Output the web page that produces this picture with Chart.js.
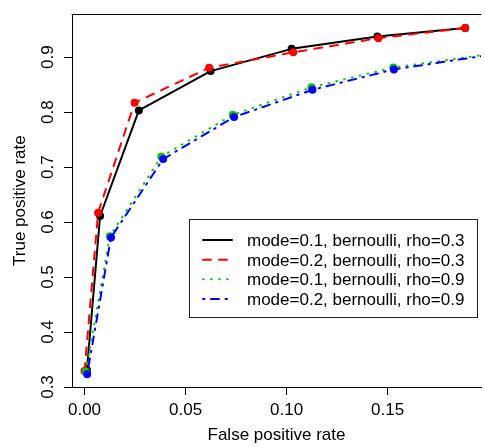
<!DOCTYPE html>
<html>
<head>
<meta charset="utf-8">
<script src="https://cdn.jsdelivr.net/npm/chart.js@4.4.1/dist/chart.umd.min.js"></script>
<style>
  html, body { margin: 0; padding: 0; background: #fff; }
</style>
</head>
<body>
<canvas id="rocChart" width="485" height="448"></canvas>
<script>
// ROC points (false positive rate, true positive rate)
const labels = [
  "mode=0.1, bernoulli, rho=0.3",
  "mode=0.2, bernoulli, rho=0.3",
  "mode=0.1, bernoulli, rho=0.9",
  "mode=0.2, bernoulli, rho=0.9",
];
const fpr1 = [0.0012, 0.0077, 0.0269, 0.0624, 0.1025, 0.1449, 0.1884];
const tpr1 = [0.331, 0.611, 0.803, 0.8745, 0.915, 0.9373, 0.9529];
const fpr2 = [0.0000, 0.0067, 0.0248, 0.0617, 0.1033, 0.1454, 0.1884];
const tpr2 = [0.329, 0.617, 0.817, 0.8806, 0.9086, 0.9344, 0.9529];
const fpr3 = [0.0006, 0.0125, 0.0380, 0.0734, 0.1123, 0.1528, 0.215];
const tpr3 = [0.328, 0.574, 0.719, 0.795, 0.845, 0.881, 0.913];
const fpr4 = [0.0013, 0.0131, 0.0389, 0.0740, 0.1128, 0.1531, 0.215];
const tpr4 = [0.323, 0.572, 0.7145, 0.791, 0.8405, 0.8776, 0.912];

const xTicks = [0, 0.05, 0.10, 0.15];
const yTicks = [0.3, 0.4, 0.5, 0.6, 0.7, 0.8, 0.9];

const FONT = "'Liberation Sans', Arial, Helvetica, sans-serif";

function pts(xs, ys) {
  return xs.map((x, i) => ({ x: x, y: ys[i] }));
}

function series(i, xs, ys, color, dash, order) {
  return {
    label: labels[i],
    data: pts(xs, ys),
    borderColor: color,
    backgroundColor: color,
    pointBackgroundColor: color,
    pointBorderWidth: 0,
    pointRadius: 4,
    borderWidth: 2,
    borderDash: dash,
    borderCapStyle: "round",
    borderJoinStyle: "round",
    tension: 0,
    order: order,
  };
}

// R-style legend box inside the plot
const legendBox = {
  id: "legendBox",
  afterDraw(chart) {
    const ctx = chart.ctx;
    ctx.save();
    ctx.strokeStyle = "#222";
    ctx.lineWidth = 1;
    ctx.strokeRect(189.5, 219.5, 288, 98);
    chart.data.datasets.forEach((ds, i) => {
      const y = 240 + i * 19.67;
      ctx.beginPath();
      ctx.strokeStyle = ds.borderColor;
      ctx.lineWidth = ds.borderWidth;
      ctx.lineCap = "round";
      ctx.setLineDash(ds.borderDash || []);
      ctx.moveTo(203, y);
      ctx.lineTo(232, y);
      ctx.stroke();
      ctx.setLineDash([]);
      ctx.fillStyle = "#000";
      ctx.font = "17px " + FONT;
      ctx.textBaseline = "alphabetic";
      ctx.textAlign = "left";
      ctx.fillText(ds.label, 247, y + 6);
    });
    // top side of the box around the plot
    const a = chart.chartArea;
    ctx.beginPath();
    ctx.strokeStyle = "#000";
    ctx.lineWidth = 1;
    ctx.moveTo(a.left, Math.round(a.top) + 0.5);
    ctx.lineTo(a.right, Math.round(a.top) + 0.5);
    ctx.stroke();
    ctx.restore();
  },
};

new Chart(document.getElementById("rocChart"), {
  type: "line",
  data: {
    datasets: [
      series(0, fpr1, tpr1, "#000000", [], 4),
      series(1, fpr2, tpr2, "#ff0000", [8, 8], 3),
      series(2, fpr3, tpr3, "#00cd00", [0.8, 7.2], 2),
      series(3, fpr4, tpr4, "#0000ff", [1.5, 6.5, 8, 6.5], 1),
    ],
  },
  options: {
    responsive: false,
    animation: false,
    devicePixelRatio: 1,
    layout: { padding: { top: 9, right: -9, left: 0, bottom: 0 } },
    plugins: { legend: { display: false }, tooltip: { enabled: false } },
    scales: {
      x: {
        type: "linear",
        min: -0.0062,
        max: 0.1962,
        afterBuildTicks: (s) => { s.ticks = xTicks.map((v) => ({ value: v })); },
        afterFit: (s) => { s.height = 61; },
        ticks: {
          color: "#000",
          font: { size: 17, family: FONT },
          padding: 5,
          maxRotation: 0,
          callback: (v) => v.toFixed(2),
        },
        grid: { drawOnChartArea: false, drawTicks: true, tickLength: 8, tickColor: "#000" },
        border: { display: true, color: "#000", width: 1 },
        title: {
          display: true,
          text: "False positive rate",
          color: "#000",
          font: { size: 17, family: FONT },
          padding: { top: 0, bottom: 2 },
        },
      },
      y: {
        type: "linear",
        min: 0.3,
        max: 0.978,
        afterBuildTicks: (s) => { s.ticks = yTicks.map((v) => ({ value: v })); },
        afterFit: (s) => { s.width = 72; },
        ticks: {
          color: "#000",
          font: { size: 17, family: FONT },
          minRotation: 90,
          maxRotation: 90,
          crossAlign: "center",
          padding: 4,
          callback: (v) => v.toFixed(1),
        },
        grid: { drawOnChartArea: false, drawTicks: true, tickLength: 8, tickColor: "#000" },
        border: { display: true, color: "#000", width: 1 },
        title: {
          display: true,
          text: "True positive rate",
          color: "#000",
          font: { size: 17, family: FONT },
          padding: { top: 10, bottom: 0 },
        },
      },
    },
  },
  plugins: [legendBox],
});
</script>
</body>
</html>
